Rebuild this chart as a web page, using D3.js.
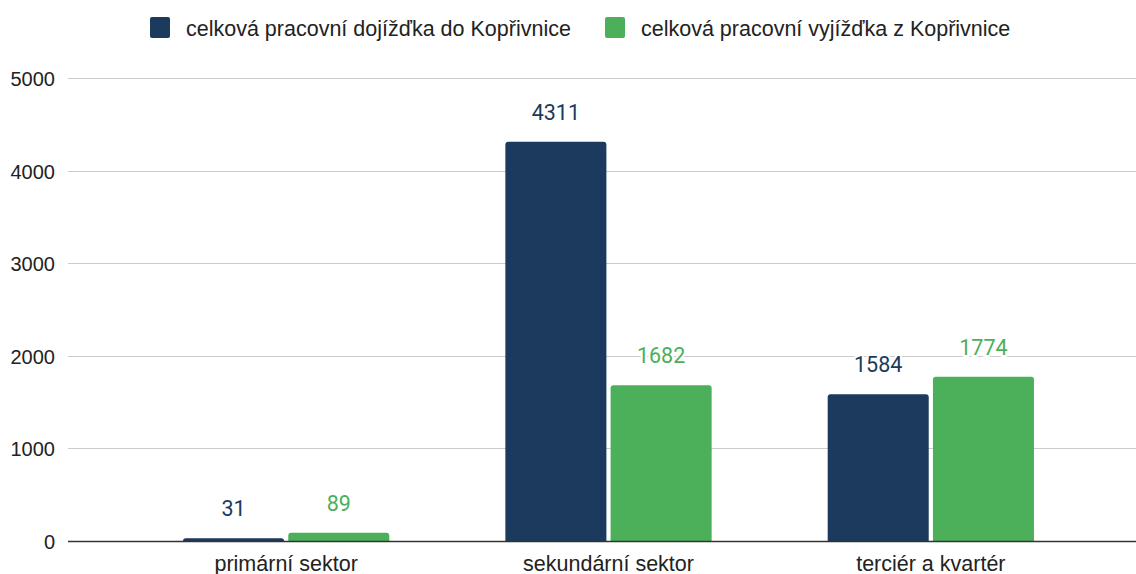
<!DOCTYPE html>
<html>
<head>
<meta charset="utf-8">
<script src="https://cdn.jsdelivr.net/npm/d3@7"></script>
<style>
  html, body { margin: 0; padding: 0; background: #fff; }
  svg { display: block; }
</style>
</head>
<body>
<svg id="chart" width="1136" height="574"></svg>
<script>
// Commuting by sector, Kopřivnice
const categories = ["primární sektor", "sekundární sektor", "terciér a kvartér"];
const seriesNames = ["celková pracovní dojížďka do Kopřivnice", "celková pracovní vyjížďka z Kopřivnice"];
const commutingIn = [31, 4311, 1584];
const commutingOut = [89, 1682, 1774];
const yTicks = [0, 1000, 2000, 3000, 4000, 5000];
const colors = ["#1b3a5e", "#4caf5a"];

const svg = d3.select("#chart");
const plotLeft = 68, plotRight = 1136, plotTop = 78, plotBottom = 541;
const sans = "'Liberation Sans', Arial, sans-serif";

const seriesValues = [commutingIn, commutingOut];

const y = d3.scaleLinear().domain([0, 5000]).range([plotBottom, plotTop]);
const x0 = d3.scaleBand().domain(categories).range([125, 1092])
  .paddingInner(0.36).paddingOuter(0.18);
const x1 = d3.scaleBand().domain(d3.range(seriesNames.length))
  .range([0, x0.bandwidth()]).paddingInner(0.04);

// gridlines
svg.append("g").selectAll("line").data(yTicks.filter(d => d > 0)).join("line")
  .attr("x1", plotLeft).attr("x2", plotRight)
  .attr("y1", d => Math.round(y(d)) + 0.5).attr("y2", d => Math.round(y(d)) + 0.5)
  .attr("stroke", "#cccccc").attr("stroke-width", 1);

// y axis labels
const yAxis = d3.axisLeft(y).tickValues(yTicks).tickFormat(d3.format("d"))
  .tickSize(0).tickPadding(0);
const yG = svg.append("g").attr("transform", `translate(${plotLeft - 13},0)`).call(yAxis);
yG.select(".domain").remove();
yG.selectAll("text")
  .attr("dy", 7.5)
  .attr("font-family", sans)
  .attr("font-size", 20).attr("fill", "#222");

// bars with rounded top corners
function barPath(x, yTop, w, yBase, r) {
  const h = yBase - yTop;
  r = Math.min(r, h, w / 2);
  return `M${x},${yBase}V${yTop + r}Q${x},${yTop} ${x + r},${yTop}H${x + w - r}Q${x + w},${yTop} ${x + w},${yTop + r}V${yBase}Z`;
}

const rows = [];
categories.forEach((c, i) => {
  seriesValues.forEach((vals, s) => rows.push({ cat: c, s, v: vals[i] }));
});

svg.append("g").selectAll("path").data(rows).join("path")
  .attr("d", d => barPath(x0(d.cat) + x1(d.s), y(d.v), x1.bandwidth(), plotBottom, 3))
  .attr("fill", d => colors[d.s]);

// value labels
svg.append("g").selectAll("text").data(rows).join("text")
  .attr("x", d => x0(d.cat) + x1(d.s) + x1.bandwidth() / 2)
  .attr("y", d => y(d.v) - 22)
  .attr("text-anchor", "middle")
  .attr("font-family", "Roboto, sans-serif")
  .attr("font-size", 21.5)
  .attr("fill", d => colors[d.s])
  .attr("stroke", "#fff").attr("stroke-width", 4).attr("paint-order", "stroke")
  .text(d => d.v);

// baseline
svg.append("line")
  .attr("x1", plotLeft).attr("x2", plotRight)
  .attr("y1", plotBottom + 0.5).attr("y2", plotBottom + 0.5)
  .attr("stroke", "#333").attr("stroke-width", 1.3);

// category labels
const xAxis = d3.axisBottom(x0).tickSize(0).tickPadding(0);
const xG = svg.append("g").attr("transform", `translate(0,${plotBottom})`).call(xAxis);
xG.select(".domain").remove();
xG.selectAll("text")
  .attr("y", 30).attr("dy", 0)
  .attr("font-family", sans)
  .attr("font-size", 21.5).attr("fill", "#222");

// legend
const legend = svg.append("g");
const legendX = [150, 605];
seriesNames.forEach((name, i) => {
  const g = legend.append("g").attr("transform", `translate(${legendX[i]},17)`);
  g.append("rect").attr("width", 20).attr("height", 21).attr("rx", 2)
    .attr("fill", colors[i]);
  g.append("text").attr("x", 36).attr("y", 19)
    .attr("font-family", sans)
    .attr("font-size", 21.5).attr("fill", "#222")
    .text(name);
});
</script>
</body>
</html>
